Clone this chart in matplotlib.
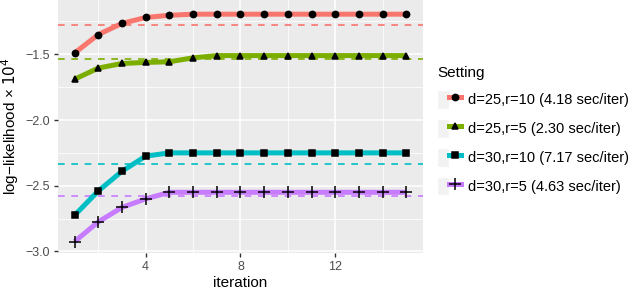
import numpy as np
import matplotlib.pyplot as plt
from matplotlib.lines import Line2D
from matplotlib.patches import Rectangle
from matplotlib.ticker import MultipleLocator
from matplotlib.legend_handler import HandlerTuple

plt.rcParams['font.family'] = ['Liberation Sans', 'DejaVu Sans']

iteration = np.arange(1, 16)
labels = ["d=25,r=10 (4.18 sec/iter)", "d=25,r=5 (2.30 sec/iter)",
          "d=30,r=10 (7.17 sec/iter)", "d=30,r=5 (4.63 sec/iter)"]
colors = ["#F8766D", "#7CAE00", "#00BFC4", "#C77CFF"]
markers = ["o", "^", "s", "+"]

red = [-1.49, -1.35, -1.265, -1.22, -1.203, -1.195, -1.195, -1.195,
       -1.195, -1.195, -1.195, -1.195, -1.195, -1.195, -1.195]
green = [-1.69, -1.605, -1.57, -1.562, -1.557, -1.527, -1.51, -1.51,
         -1.51, -1.51, -1.51, -1.51, -1.51, -1.51, -1.51]
cyan = [-2.725, -2.54, -2.39, -2.275, -2.25, -2.25, -2.25, -2.25,
        -2.25, -2.25, -2.25, -2.25, -2.25, -2.25, -2.25]
purple = [-2.925, -2.775, -2.665, -2.6, -2.55, -2.55, -2.55, -2.55,
          -2.55, -2.55, -2.55, -2.55, -2.55, -2.55, -2.55]
series = [red, green, cyan, purple]
baselines = [-1.278, -1.537, -2.333, -2.58]

fig = plt.figure(figsize=(6.4, 2.92), dpi=100)
ax = fig.add_axes([0.0906, 0.1335, 0.5703, 0.8665])
ax.set_facecolor("#EBEBEB")
for s in ax.spines.values():
    s.set_visible(False)

ax.xaxis.set_major_locator(MultipleLocator(4))
ax.xaxis.set_minor_locator(MultipleLocator(2))
ax.yaxis.set_major_locator(MultipleLocator(0.5))
ax.yaxis.set_minor_locator(MultipleLocator(0.25))
ax.grid(which="major", color="white", lw=1.1)
ax.grid(which="minor", color="white", lw=0.55)
ax.set_axisbelow(True)
ax.tick_params(which="minor", length=0)
ax.tick_params(which="major", length=3, width=1, color="#333333",
               labelsize=9, labelcolor="#4D4D4D", pad=3)

msize = {"o": 4.5, "^": 5, "s": 4.5, "+": 8}
handles = []
for y, base, c, m in zip(series, baselines, colors, markers):
    ax.axhline(base, color=c, lw=1.2, ls=(0, (4, 4)), zorder=2)
    ax.plot(iteration, y, color=c, lw=3.6, solid_capstyle="butt", zorder=3)
    ax.plot(iteration, y, ls="none", marker=m, color="black", ms=msize[m],
            mew=1.1, zorder=4)
    box = Rectangle((0, 0), 1, 1, facecolor="#F2F2F2", edgecolor="white")
    ln = Line2D([], [], color=c, lw=3.6, marker=m, mfc="black", mec="black",
                ms=msize[m], mew=1.1)
    handles.append((box, ln))

ax.set_xlim(0.3, 15.7)
ax.set_ylim(-3.012, -1.087)
ax.set_yticks([-3.0, -2.5, -2.0, -1.5])
ax.set_yticklabels(["\u22123.0", "\u22122.5", "\u22122.0", "\u22121.5"])
ax.set_xticks([4, 8, 12])
ax.set_xlabel("iteration", fontsize=11, labelpad=2)
ax.set_ylabel("log\u2212likelihood \u00d7 $10^4$", fontsize=11, labelpad=3)

leg = ax.legend(handles, labels, title="Setting", loc="upper left",
                bbox_to_anchor=(0.672, 0.80), bbox_transform=fig.transFigure,
                frameon=False, fontsize=10.5, title_fontsize=11,
                handler_map={tuple: HandlerTuple(ndivide=None, pad=0)},
                handlelength=1.6, handleheight=1.6, labelspacing=0.7,
                handletextpad=0.5, borderpad=0, alignment="left")

fig.savefig("out.png", dpi=100)
